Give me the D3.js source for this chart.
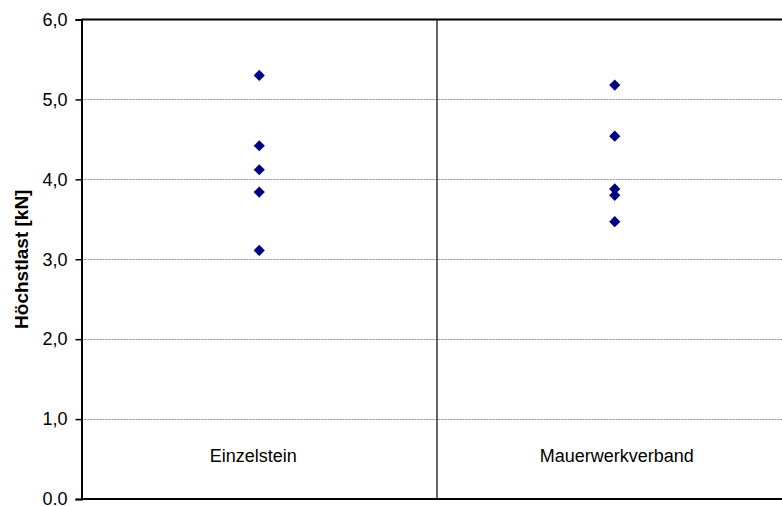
<!DOCTYPE html>
<html>
<head>
<meta charset="utf-8">
<script src="https://cdn.jsdelivr.net/npm/d3@7"></script>
<style>
  html, body { margin: 0; padding: 0; background: #fff; }
  svg { display: block; font-family: "Liberation Sans", Arial, sans-serif; }
</style>
</head>
<body>
<svg id="chart" width="782" height="506"></svg>
<script>
// Test groups and measured peak loads (kN)
const categories = ["Einzelstein", "Mauerwerkverband"];
const einzelstein = [5.30, 4.42, 4.12, 3.84, 3.11];
const mauerwerkverband = [5.18, 4.54, 3.88, 3.80, 3.47];
const yTicks = [0, 1, 2, 3, 4, 5, 6];
const yTickLabels = ["0.0", "1,0", "2,0", "3,0", "4,0", "5,0", "6,0"];
const yTitle = "Höchstlast [kN]";

const series = [einzelstein, mauerwerkverband];

const svg = d3.select("#chart");
const margin = { left: 81.5, top: 19.5, bottom: 7 };
const plotRight = 792.5;
const height = 506;

const x = d3.scaleBand().domain(categories).range([margin.left, plotRight]).padding(0);
const y = d3.scaleLinear().domain([0, 6]).range([height - margin.bottom, margin.top]);

// horizontal dotted gridlines
svg.append("g")
  .selectAll("line")
  .data(yTicks.filter(t => t > 0 && t < 6))
  .join("line")
  .attr("x1", margin.left).attr("x2", plotRight)
  .attr("y1", d => Math.round(y(d)) + 0.5).attr("y2", d => Math.round(y(d)) + 0.5)
  .attr("stroke", "#8c8c8c").attr("stroke-width", 1)
  .attr("stroke-dasharray", "2,1");

// plot frame (top, bottom) and separator between groups
svg.append("line")
  .attr("x1", margin.left).attr("x2", plotRight)
  .attr("y1", y(6)).attr("y2", y(6))
  .attr("stroke", "#000").attr("stroke-width", 2);
svg.append("line")
  .attr("x1", margin.left).attr("x2", plotRight)
  .attr("y1", y(0)).attr("y2", y(0))
  .attr("stroke", "#000").attr("stroke-width", 2);
svg.append("line")
  .attr("x1", x(categories[1])).attr("x2", x(categories[1]))
  .attr("y1", y(6)).attr("y2", y(0))
  .attr("stroke", "#000").attr("stroke-width", 1.2);

// y axis
const yAxis = d3.axisLeft(y)
  .tickValues(yTicks)
  .tickFormat((d, i) => yTickLabels[i])
  .tickSize(6)
  .tickPadding(8);
const gy = svg.append("g")
  .attr("transform", `translate(${margin.left},0)`)
  .call(yAxis);
gy.select(".domain").attr("stroke", "#000").attr("stroke-width", 2);
gy.selectAll(".tick line").attr("stroke", "#000").attr("stroke-width", 1.5);
gy.selectAll(".tick text")
  .attr("font-family", "Liberation Sans, Arial, sans-serif")
  .attr("font-size", 18).attr("fill", "#000");

// y axis title
svg.append("text")
  .attr("transform", `translate(27.5,${(y(0) + y(6)) / 2}) rotate(-90)`)
  .attr("text-anchor", "middle")
  .attr("font-weight", "bold")
  .attr("font-size", 19)
  .text(yTitle);

// category labels inside the plot, near the bottom of each group
svg.append("g")
  .selectAll("text")
  .data(categories)
  .join("text")
  .attr("x", (d, i) => x(d) + x.bandwidth() / 2 + (i === 0 ? -6 : 2))
  .attr("y", 462)
  .attr("text-anchor", "middle")
  .attr("font-size", 18)
  .text(d => d);

// diamond markers
const diamond = d3.symbol().type(d3.symbolDiamond2).size(80);
svg.append("g")
  .selectAll("g")
  .data(series.map((vals, i) => vals.map(v => ({ cat: categories[i], v }))))
  .join("g")
  .selectAll("path")
  .data(d => d)
  .join("path")
  .attr("transform", d => `translate(${x(d.cat) + x.bandwidth() / 2},${y(d.v)})`)
  .attr("d", diamond)
  .attr("fill", "#000080");
</script>
</body>
</html>
